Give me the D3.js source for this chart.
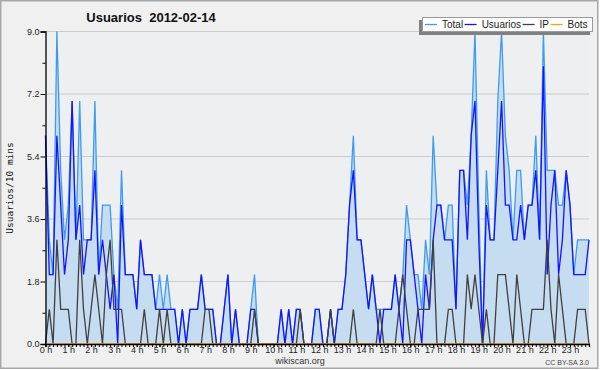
<!DOCTYPE html>
<html>
<head>
<meta charset="utf-8">
<script src="https://cdn.jsdelivr.net/npm/d3@7"></script>
<style>
body{margin:0;background:#fff}
text{font-family:"Liberation Sans",Arial,sans-serif}
</style>
</head>
<body>
<div id="chart"></div>
<script>
// un point toutes les 10 minutes, 24 h -> 144 valeurs (une ligne = une heure)
const total = [
 6,3,2,9,5,3,  4,7,3,7,3,3,  3,7,2,4,4,4,  2,1,5,2,2,2,
 1,3,2,2,2,1,  2,1,2,1,1,0,  1,0,1,1,1,2,  1,1,1,0,0,1,
 2,0,1,0,0,0,  1,2,0,0,0,0,  0,0,1,0,1,0,  1,1,0,0,0,1,
 1,0,0,1,0,1,  1,2,4,6,3,3,  2,1,2,1,1,1,  1,1,2,1,2,4,
 3,2,2,1,3,2,  6,4,4,3,4,4,  1,5,5,4,6,9,  4,0,5,3,3,7,
 9,6,5,3,5,5,  3,4,4,6,3,9,  5,5,5,4,4,5,  4,2,3,3,3,3]
const usuarios = [
 6,2,2,6,4,2,  3,7,3,4,2,3,  3,5,2,3,2,1,  2,0,4,2,2,2,
 1,3,2,2,2,1,  1,1,1,1,1,0,  1,0,1,1,1,2,  1,1,1,0,0,1,
 2,0,1,0,0,0,  1,1,0,0,0,0,  0,0,1,0,1,0,  1,1,0,0,0,1,
 1,0,0,1,0,1,  1,2,4,5,3,3,  2,1,2,1,0,1,  1,1,2,1,0,3,
 3,2,1,0,2,1,  3,4,4,3,3,3,  1,5,5,3,6,7,  3,0,4,3,3,5,
 7,4,4,3,3,4,  3,4,4,5,3,8,  2,4,5,2,3,5,  4,2,2,2,2,3]
const ip = [
 0,1,0,3,1,1,  1,0,0,3,1,0,  1,2,1,0,2,3,  1,1,1,0,0,0,
 0,0,1,0,0,0,  1,0,1,0,0,0,  0,0,0,0,0,0,  1,1,0,0,0,0,
 0,0,0,0,0,0,  0,1,0,0,0,0,  0,0,0,0,0,0,  0,1,0,0,0,0,
 0,0,0,1,0,0,  0,0,0,1,0,0,  0,0,0,0,1,0,  0,0,0,1,2,1,
 0,0,1,1,1,1,  3,0,0,0,1,1,  0,0,0,2,1,2,  1,0,1,0,0,2,
 2,2,1,0,2,1,  0,0,1,1,1,1,  3,1,0,2,1,0,  0,0,1,1,1,0]
const bots = [
 0,0,0,0,0,0,  0,0,0,0,0,0,  0,0,0,0,0,0,  0,0,0,0,0,0,
 0,0,0,0,0,0,  0,0,0,0,0,0,  0,0,0,0,0,0,  0,0,0,0,0,0,
 0,0,0,0,0,0,  0,0,0,0,0,0,  0,0,0,0,0,0,  0,0,0,0,0,0,
 0,0,0,0,0,0,  0,0,0,0,0,0,  0,0,0,0,0,0,  0,0,0,0,0,0,
 0,0,0,0,0,0,  0,0,0,0,0,0,  0,0,0,0,0,0,  0,0,0,0,0,0,
 0,0,0,0,0,0,  0,0,0,0,0,0,  0,0,0,0,0,0,  0,0,0,0,0,0]
const serieNames = ["Total","Usuarios","IP","Bots"]
const hourLabels = ["0 h","1 h","2 h","3 h","4 h","5 h","6 h","7 h","8 h","9 h","10 h","11 h",
 "12 h","13 h","14 h","15 h","16 h","17 h","18 h","19 h","20 h","21 h","22 h","23 h"]
const yTicks = [0,1.8,3.6,5.4,7.2,9.0]
const yMinor = [0.9,2.7,4.5,6.3,8.1]

const W=600, H=370
const colors={Total:"#3c9cf0",Usuarios:"#1414ff",IP:"#404040",Bots:"#ffa500"}
const series={Total:total,Usuarios:usuarios,IP:ip,Bots:bots}

let svg=d3.select("#chart").append("svg").attr("width",W).attr("height",H)
// fond + cadre
svg.append("rect").attr("x",0.75).attr("y",0.75).attr("width",597).attr("height",367.5)
    .attr("fill","#f0f0f0").attr("stroke","#a8a8a8").attr("stroke-width",1.5)

const x=d3.scaleLinear().domain([0,total.length-1]).range([45.5,589])
const y=d3.scaleLinear().domain([0,9]).range([344,31.5])

svg.append("rect").attr("x",x(0)).attr("y",y(9)).attr("width",x(143)-x(0)).attr("height",y(0)-y(9))
    .attr("fill","#eeeff1")

// grille horizontale
svg.append("g").selectAll("line").data(yTicks.filter(d=>d>0)).enter().append("line")
    .attr("x1",x(0)).attr("x2",x(143)).attr("y1",d=>y(d)).attr("y2",d=>y(d))
    .attr("stroke","#cbcbcb").attr("stroke-width",1)

// surface sous le total
const area=d3.area().x((d,i)=>x(i)).y0(y(0)).y1(d=>y(d))
svg.append("path").datum(total).attr("d",area).attr("fill","#c6dcf0")

const line=d3.line().x((d,i)=>x(i)).y(d=>y(d))
serieNames.forEach(function(n){
    svg.append("path").datum(series[n]).attr("d",line)
        .attr("fill","none").attr("stroke",colors[n]).attr("stroke-width",1.3)
        .attr("stroke-linejoin","miter")
})

// axes
let ya=svg.append("g").attr("transform","translate("+x(0)+",0)")
    .call(d3.axisLeft(y).tickValues(yTicks).tickFormat(d3.format(".1f")).tickSize(5).tickPadding(1))
let ym=svg.append("g").attr("transform","translate("+x(0)+",0)")
    .call(d3.axisLeft(y).tickValues(yMinor).tickFormat("").tickSize(3))
ym.select(".domain").remove()
let xa=svg.append("g").attr("transform","translate(0,"+y(0)+")")
    .call(d3.axisBottom(x).tickValues(d3.range(0,144)).tickFormat("").tickSize(3))
let xh=svg.append("g").attr("transform","translate(0,"+y(0)+")")
    .call(d3.axisBottom(x).tickValues(hourLabels.map((d,i)=>i*6)).tickFormat((d,i)=>hourLabels[i]).tickSize(3).tickPadding(0))
xh.select(".domain").remove()
;[ya,ym,xa,xh].forEach(g=>{
    g.selectAll("text").style("font-family","Liberation Sans, Arial, sans-serif").style("font-size","9px").attr("fill","#222")
    g.selectAll("line,path").attr("stroke","#000")
})
xa.select(".domain").attr("stroke-width",1.3)
ya.select(".domain").attr("stroke-width",1.3)

// titres
svg.append("text").attr("x",151).attr("y",21.5).attr("text-anchor","middle")
    .style("font-weight","bold").style("font-size","13px").style("white-space","pre").attr("fill","#111")
    .text("Usuarios  2012-02-14")
svg.append("text").attr("transform","translate(13,188) rotate(-90)").attr("text-anchor","middle")
    .style("font-family","DejaVu Sans Mono, monospace").style("font-size","9.5px").attr("fill","#111")
    .text("Usuarios/10 mins")
svg.append("text").attr("x",300).attr("y",364).attr("text-anchor","middle")
    .style("font-size","9px").attr("fill","#333").text("wikiscan.org")
svg.append("text").attr("x",589).attr("y",365).attr("text-anchor","end")
    .style("font-size","7px").attr("fill","#444").text("CC BY-SA 3.0")

// légende avec ombre
let lg=svg.append("g")
lg.append("rect").attr("x",419).attr("y",20).attr("width",171).attr("height",15).attr("fill","#808080")
lg.append("rect").attr("x",422.5).attr("y",17.5).attr("width",170).attr("height",14)
    .attr("fill","#fff").attr("stroke","#9a9a9a")
let cx=425
serieNames.forEach(function(n){
    lg.append("line").attr("x1",cx).attr("x2",cx+12).attr("y1",24.5).attr("y2",24.5)
        .attr("stroke",colors[n]).attr("stroke-width",1.3)
    let t=lg.append("text").attr("x",cx+17).attr("y",28).style("font-size","10px").attr("fill","#222").text(n)
    cx+=17+t.node().getComputedTextLength()+1.5
})
</script>
</body>
</html>
